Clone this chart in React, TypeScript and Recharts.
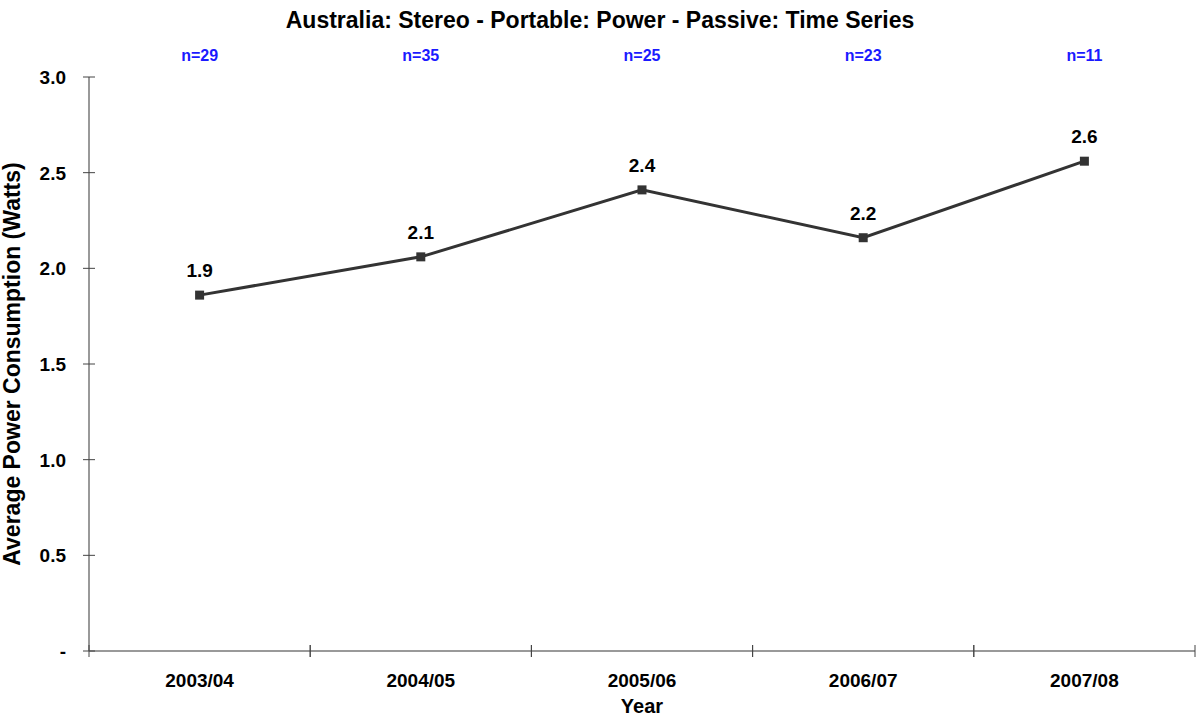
import { LineChart, Line, XAxis, YAxis, LabelList } from "recharts"

const years = ["2003/04", "2004/05", "2005/06", "2006/07", "2007/08"]
const power = [1.86, 2.06, 2.41, 2.16, 2.56]
const counts = [29, 35, 25, 23, 11]
const yTicks = [0, 0.5, 1, 1.5, 2, 2.5, 3]

const data = years.map((year, i) => ({ year, power: power[i], n: counts[i] }))

const W = 1198
const H = 718
const LEFT = 89
const RIGHT = 3
const TOP = 77
const BOTTOM = 67
const band = (W - LEFT - RIGHT) / years.length
const FONT = "'Liberation Sans', Arial, sans-serif"

// y ticks cross the axis line
const YTick = (props: any) => {
  const { x, y, payload } = props
  const label = payload.value === 0 ? "-" : Number(payload.value).toFixed(1)
  return (
    <g>
      <line x1={x + 17} x2={x + 29} y1={y} y2={y} stroke="#444" strokeWidth={1} />
      <text x={x} y={y} dy={7} textAnchor="end" fontSize={19} fontWeight="bold" fill="#000" fontFamily={FONT}>
        {label}
      </text>
    </g>
  )
}

// x ticks sit on the band edges, labels in the middle
const XTick = (props: any) => {
  const { x, y, payload } = props
  return (
    <g>
      <line x1={x - band / 2} x2={x - band / 2} y1={y - 28} y2={y - 16} stroke="#444" />
      <line x1={x + band / 2} x2={x + band / 2} y1={y - 28} y2={y - 16} stroke="#444" />
      <text x={x} y={y} dy={14} textAnchor="middle" fontSize={19} fontWeight="bold" fill="#000" fontFamily={FONT}>
        {payload.value}
      </text>
    </g>
  )
}

const NTick = (props: any) => {
  const { x, y, index } = props
  return (
    <text x={x} y={y - 16} textAnchor="middle" fontSize={16} fontWeight="bold" fill="#1a1aff" fontFamily={FONT}>
      {`n=${counts[index]}`}
    </text>
  )
}

const SquareDot = (props: any) => {
  const { cx, cy } = props
  return <rect x={cx - 4.5} y={cy - 4.5} width={9} height={9} fill="#333" />
}

export default function App() {
  return (
    <div style={{ position: "absolute", left: 0, top: 0, width: W, height: H, background: "#fff", fontFamily: FONT }}>
      <div
        style={{
          position: "absolute",
          left: 600,
          top: 7,
          transform: "translateX(-50%)",
          whiteSpace: "nowrap",
          fontSize: 23,
          fontWeight: "bold",
          color: "#000",
        }}
      >
        Australia: Stereo - Portable: Power - Passive: Time Series
      </div>
      <LineChart width={W} height={H} data={data} margin={{ top: 0, right: RIGHT, left: 0, bottom: 0 }}>
        <XAxis
          xAxisId="top"
          orientation="top"
          dataKey="year"
          scale="band"
          height={TOP}
          axisLine={false}
          tickLine={false}
          tickSize={0}
          tickMargin={0}
          tick={<NTick />}
          interval={0}
        />
        <XAxis
          dataKey="year"
          scale="band"
          height={BOTTOM}
          axisLine={{ stroke: "#777", strokeWidth: 1.5 }}
          tickLine={false}
          tickSize={6}
          tickMargin={16}
          tick={<XTick />}
          interval={0}
          label={{ value: "Year", position: "insideBottom", offset: 5, fontSize: 20, fontWeight: "bold", fill: "#000", fontFamily: FONT }}
        />
        <YAxis
          width={LEFT}
          domain={[0, 3]}
          ticks={yTicks}
          interval={0}
          axisLine={{ stroke: "#777", strokeWidth: 1.5 }}
          tickLine={false}
          tickSize={6}
          tickMargin={17}
          tick={<YTick />}
          label={{
            content: (p: any) => {
              const vb = p.viewBox
              const cx = vb.x + 20
              const cy = vb.y + vb.height / 2
              return (
                <text
                  transform={`translate(${cx},${cy}) rotate(-90)`}
                  textAnchor="middle"
                  fontSize={23}
                  fontWeight="bold"
                  fill="#000"
                  fontFamily={FONT}
                >
                  Average Power Consumption (Watts)
                </text>
              )
            },
          }}
        />
        <Line
          dataKey="power"
          stroke="#333"
          strokeWidth={3}
          dot={<SquareDot />}
          activeDot={false}
          isAnimationActive={false}
        >
          <LabelList
            dataKey="power"
            position="top"
            offset={18}
            formatter={(v: any) => Number(v).toFixed(1)}
            style={{ fontSize: 19, fontWeight: "bold", fill: "#000", fontFamily: FONT }}
          />
        </Line>
      </LineChart>
    </div>
  )
}
